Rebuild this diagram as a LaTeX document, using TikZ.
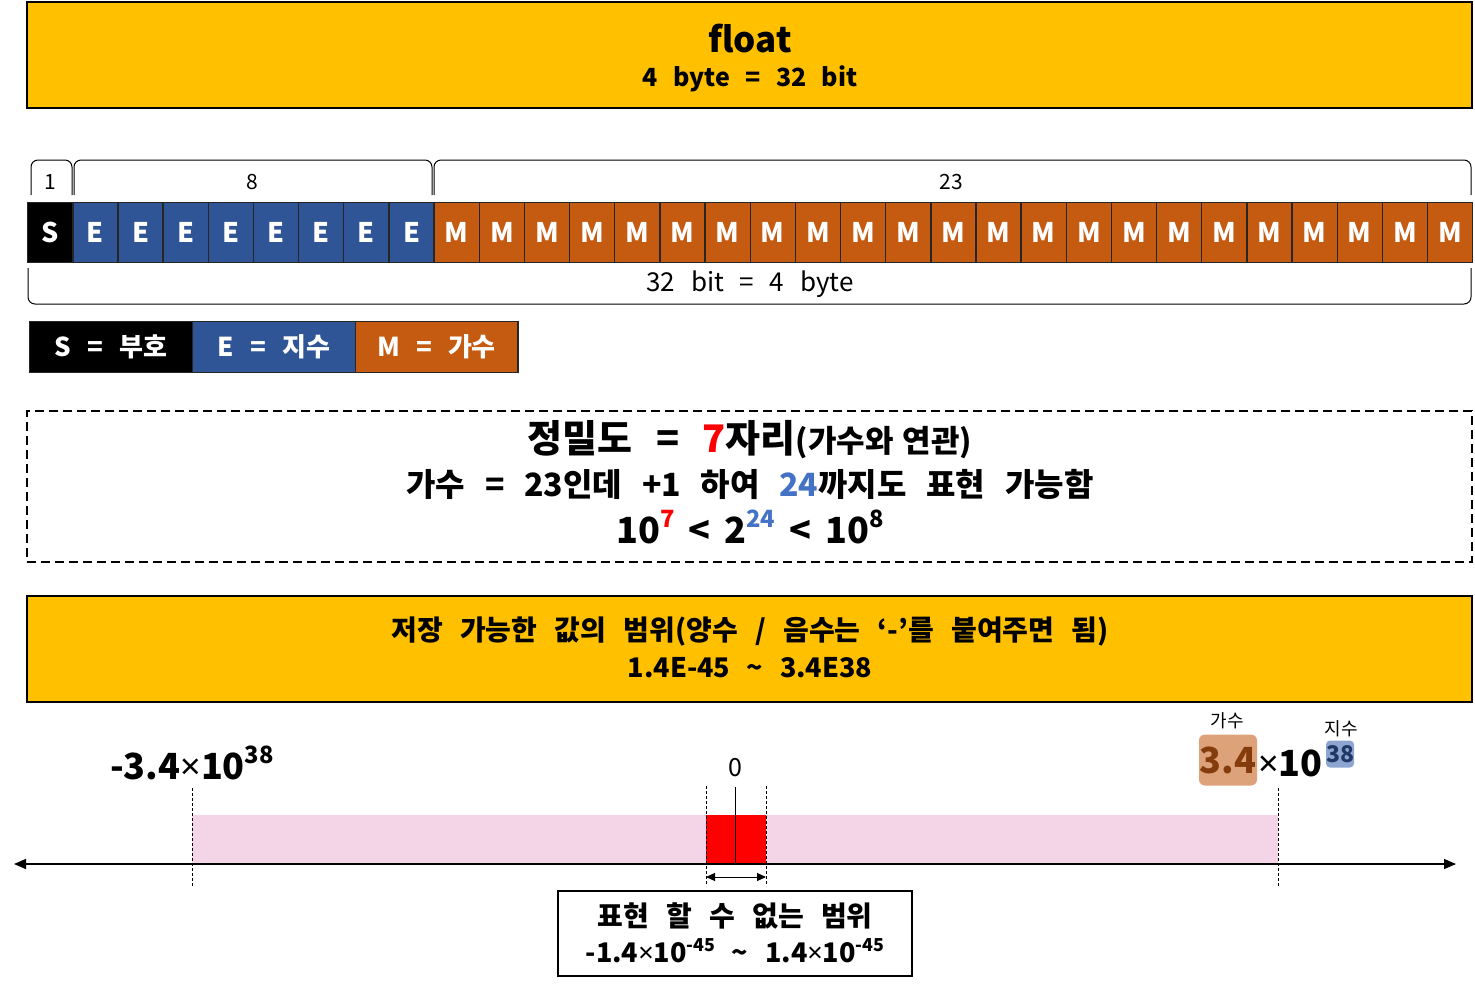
\documentclass[tikz,border=0pt]{standalone}
\usepackage{fontspec}
\setmainfont{Noto Sans CJK KR}[WordSpace=2.7]
\newfontfamily\latinf{Noto Sans}
\usetikzlibrary{arrows.meta}
\definecolor{gold}{HTML}{FFC000}
\definecolor{eblue}{HTML}{2F5597}
\definecolor{morange}{HTML}{C55A11}
\definecolor{pinkband}{HTML}{F4D5E8}
\definecolor{b24}{HTML}{4472C4}
\definecolor{mantfill}{HTML}{DEA27A}
\definecolor{manttext}{HTML}{843C0C}
\definecolor{expfill}{HTML}{8EA5D2}
\definecolor{exptext}{HTML}{1F3864}
\newcommand\supx[1]{\raisebox{0.42em}{\scalebox{0.66}{#1}}}
\newcommand\tmx{{\latinf\bfseries ×}}
\newcommand\fsz[1]{\fontsize{#1}{#1}\selectfont}
\tikzset{
  goldbox/.style={draw=black, line width=1.5pt, fill=gold, minimum width=1445pt, minimum height=106pt, inner sep=0pt},
  cell/.style={draw=black!85, line width=1.4pt, minimum width=45.156pt, minimum height=60pt, inner sep=0pt, text=white, font=\fsz{27}\bfseries, anchor=north west},
  legend/.style={draw=black!85, line width=1.4pt, minimum width=162.7pt, minimum height=51pt, inner sep=0pt, text=white, font=\fsz{26}\bfseries, anchor=north west},
  brace/.style={black, line width=1pt, rounded corners=7pt},
  blabel/.style={font=\fsz{21}, inner sep=0pt},
  dashbox/.style={draw=black, line width=1.5pt, dash pattern=on 9pt off 5pt, minimum width=1445pt, minimum height=151pt, inner sep=0pt},
  guide/.style={black, line width=0.8pt, dash pattern=on 3pt off 2pt},
  axis/.style={black, line width=1.3pt, {Triangle[length=12pt,width=10pt]}-{Triangle[length=12pt,width=10pt]}},
  txt/.style={inner sep=0pt, align=center},
}
\begin{document}
\begin{tikzpicture}[x=1pt,y=-1pt]
\useasboundingbox (0,0) rectangle (1475,986);
% title
\node[goldbox] (title) at (749.5,55) {};
\node[txt, font=\fsz{35}\bfseries] (t1) at (750,39) {float};
\node[txt, font=\fsz{25}\bfseries] (t2) at (750,79) {4 byte = 32 bit};
% bits
\foreach \i in {0,...,31}{
  \pgfmathsetmacro\xl{27+\i*45.156}
  \ifnum\i=0 \def\col{black}\def\bitletter{S}\else\ifnum\i<9 \def\col{eblue}\def\bitletter{E}\else\def\col{morange}\def\bitletter{M}\fi\fi
  \node[cell, fill=\col] (c\i) at (\xl,202) {\bitletter};
}
% braces above
\coordinate (b1a) at (31,195); \coordinate (b1b) at (72,195);
\draw[brace] (b1a) -- (31,160) -- (72,160) -- (b1b);
\draw[brace] (74,195) -- (74,160) -- (432,160) -- (432,195);
\draw[brace] (434,195) -- (434,160) -- (1471,160) -- (1471,195);
\node[blabel] (l1) at (50,182) {1};
\node[blabel] (l8) at (252,182) {8};
\node[blabel] (l23) at (951,182) {23};
% brace below
\draw[brace] (28,268) -- (28,304) -- (1471,304) -- (1471,268);
\node[txt, font=\fsz{26}] (l32) at (750,284) {32 bit = 4 byte};
% legend
\node[legend, fill=black] (ls) at (29,321) {S = 부호};
\node[legend, fill=eblue] (le) at (192,321) {E = 지수};
\node[legend, fill=morange] (lm) at (354.5,321) {M = 가수};
% precision box
\node[dashbox] (prec) at (749.5,486.5) {};
\node[txt, font=\fsz{38}\bfseries] (p1) at (750,440) {정밀도 = \textcolor{red}{7}자리{\fontspec{Noto Sans CJK KR}[WordSpace=1.3]\fsz{31}\bfseries(가수와 연관)}};
\node[txt, font=\fsz{32}\bfseries] (p2) at (750,484) {가수 = 23인데 +1 하여 \textcolor{b24}{24}까지도 표현 가능함};
\node[txt, font=\fsz{36}\bfseries] (p3) at (750,527) {10\supx{\textcolor{red}{7}}\hspace{14pt}<\hspace{14pt}2\supx{\textcolor{b24}{24}}\hspace{14pt}<\hspace{14pt}10\supx{8}};
% range box
\node[goldbox] (range) at (749.5,649) {};
\node[txt, font=\fsz{28}\bfseries] (r1) at (750,632) {저장 가능한 값의 범위(양수 / 음수는 ‘-’를 붙여주면 됨)};
\node[txt, font=\fsz{27}\bfseries] (r2) at (750,668) {1.4E-45 \textasciitilde{} 3.4E38};
% number line
\fill[pinkband] (192,815) rectangle (1278,864);
\node[fill=red, minimum width=60pt, minimum height=49pt, inner sep=0pt, anchor=north west] (zero) at (706,815) {};
\coordinate (axl) at (14,864); \coordinate (axr) at (1456,864);
\draw[axis] (axl) -- (axr);
\coordinate (g1t) at (192,788); \coordinate (g1b) at (192,886);
\coordinate (g2t) at (1278,788); \coordinate (g2b) at (1278,886);
\coordinate (g3t) at (706,786); \coordinate (g3b) at (706,886);
\coordinate (g4t) at (766,786); \coordinate (g4b) at (766,886);
\draw[guide] (g1t) -- (g1b);
\draw[guide] (g2t) -- (g2b);
\draw[guide] (g3t) -- (g3b);
\draw[guide] (g4t) -- (g4b);
\coordinate (z0t) at (735,787); \coordinate (z0b) at (735,864);
\draw[black, line width=1pt] (z0t) -- (z0b);
\coordinate (da) at (706,877); \coordinate (db) at (766,877);
\draw[black, line width=1pt, {Triangle[length=9pt,width=8pt]}-{Triangle[length=9pt,width=8pt]}] (da) -- (db);
\node[txt, font=\fsz{25}] (zl) at (735,768) {0};
\node[txt, font=\fsz{36}\bfseries] (neg) at (192,763) {-3.4\tmx 10\supx{38}};
% positive max
\node[fill=mantfill, rounded corners=6pt, minimum width=58pt, minimum height=51pt, inner sep=0pt, text=manttext, font=\fsz{36}\bfseries] (mant) at (1228,760) {3.4};
\node[txt, font=\fsz{36}\bfseries, anchor=west] (ten) at (1258,763) {\tmx 10};
\node[fill=expfill, rounded corners=4pt, minimum width=27pt, minimum height=27pt, inner sep=0pt, text=exptext, font=\fsz{23}\bfseries] (expo) at (1340,754) {38};
\node[txt, font=\fsz{18}] (mantl) at (1227,721) {가수};
\node[txt, font=\fsz{18}] (expl) at (1341,729) {지수};
% not representable box
\node[draw=black, line width=2pt, minimum width=354pt, minimum height=85pt, inner sep=0pt] (nr) at (735,933.5) {};
\node[txt, font=\fsz{28}\bfseries] (nr1) at (735,916) {표현 할 수 없는 범위};
\node[txt, font=\fsz{27}\bfseries] (nr2) at (735,951) {-1.4\tmx 10\supx{-45} \textasciitilde{} 1.4\tmx 10\supx{-45}};
\end{tikzpicture}
\end{document}
